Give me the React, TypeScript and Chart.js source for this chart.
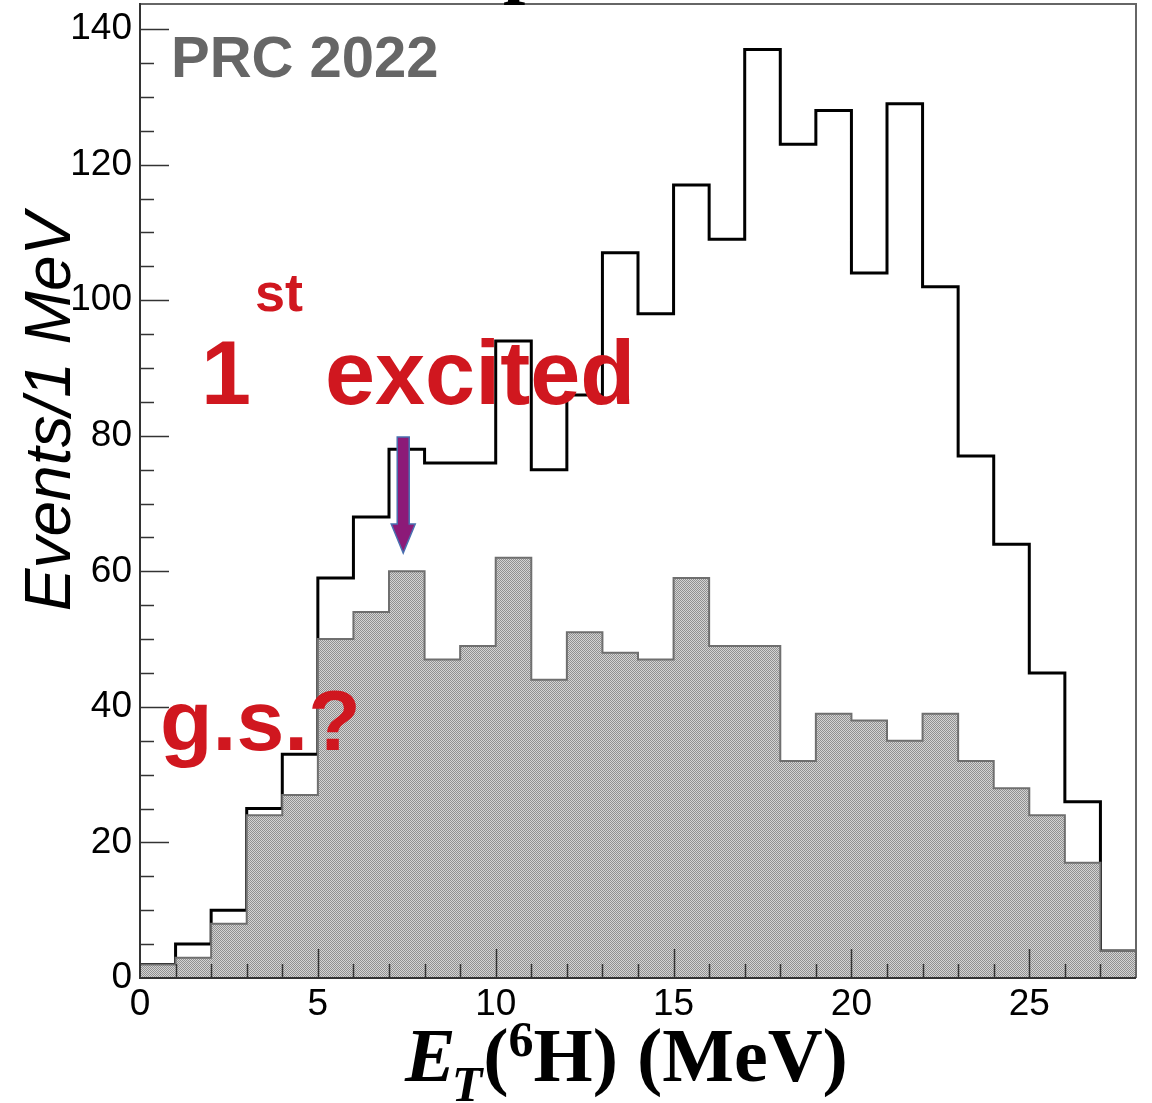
import { useEffect, useRef } from "react";
import { Chart, registerables } from "chart.js";

Chart.register(...registerables);

// ---- data (1 MeV bins, left edges) ----
const binLefts = [0, 1, 2, 3, 4, 5, 6, 7, 8, 9, 10, 11, 12, 13, 14, 15, 16, 17, 18, 19, 20, 21, 22, 23, 24, 25, 26, 27];
const binWidth = 1;
const openCounts = [2, 5, 10, 25, 33, 59, 68, 78, 76, 76, 94, 75, 86, 107, 98, 117, 109, 137, 123, 128, 104, 129, 102, 77, 64, 45, 26, 4];
const filledCounts = [2, 3, 8, 24, 27, 50, 54, 60, 47, 49, 62, 44, 51, 48, 47, 59, 49, 49, 32, 39, 38, 35, 39, 32, 28, 24, 17, 4];
const xTickValues = [0, 5, 10, 15, 20, 25];
const yTickValues = [0, 20, 40, 60, 80, 100, 120, 140];
const xMin = 0;
const xMax = 28;
const yMin = 0;
const yMax = 143.85;
// arrow annotation (data units)
const arrowX = 7.4;
const arrowTopY = 79.8;
const arrowTipY = 62.7;

const RED = "#d0171f";
const SANS = "'Liberation Sans', Arial, Helvetica, sans-serif";
const SERIF = "'Liberation Serif', 'Times New Roman', serif";

function toSteps(values: number[]) {
  const pts = values.map((v, i) => ({ x: binLefts[i], y: v }));
  const last = values.length - 1;
  pts.push({ x: binLefts[last] + binWidth, y: values[last] });
  return pts;
}

function makePattern(): CanvasPattern | string {
  const c = document.createElement("canvas");
  c.width = 2;
  c.height = 2;
  const g = c.getContext("2d");
  if (!g) return "#b0b0b0";
  g.fillStyle = "#d4d4d4";
  g.fillRect(0, 0, 2, 2);
  g.fillStyle = "#909090";
  g.fillRect(0, 0, 1, 1);
  g.fillRect(1, 1, 1, 1);
  const p = g.createPattern(c, "repeat");
  return p || "#b0b0b0";
}

const decorPlugin = {
  id: "rootDecor",
  afterDraw(chart: any) {
    const { ctx, chartArea: a, scales } = chart;
    const xs = scales.x;
    const ys = scales.y;
    ctx.save();

    // inner ticks
    ctx.strokeStyle = "#333";
    ctx.lineWidth = 1.5;
    for (let v = xMin + 1; v < xMax; v += 1) {
      const px = Math.round(xs.getPixelForValue(v)) + 0.5;
      const len = v % 5 === 0 ? 29 : 14;
      ctx.beginPath();
      ctx.moveTo(px, a.bottom);
      ctx.lineTo(px, a.bottom - len);
      ctx.stroke();
    }
    for (let v = yMin + 5; v < yMax; v += 5) {
      const py = Math.round(ys.getPixelForValue(v)) + 0.5;
      const len = v % 20 === 0 ? 29 : 14;
      ctx.beginPath();
      ctx.moveTo(a.left, py);
      ctx.lineTo(a.left + len, py);
      ctx.stroke();
    }

    // frame
    ctx.lineWidth = 2;
    ctx.strokeStyle = "#666";
    ctx.beginPath();
    ctx.moveTo(a.left, a.top + 1);
    ctx.lineTo(a.right, a.top + 1);
    ctx.lineTo(a.right, a.bottom);
    ctx.stroke();
    ctx.strokeStyle = "#333";
    ctx.beginPath();
    ctx.moveTo(a.left, a.top);
    ctx.lineTo(a.left, a.bottom);
    ctx.lineTo(a.right, a.bottom);
    ctx.stroke();

    // cut-off title fragment at top
    ctx.fillStyle = "#000";
    ctx.font = `bold 80px ${SERIF}`;
    ctx.textAlign = "left";
    ctx.textBaseline = "alphabetic";
    ctx.fillText("p", 503, -12);

    // PRC 2022
    ctx.fillStyle = "#666";
    ctx.font = `bold 58px ${SANS}`;
    ctx.fillText("PRC 2022", 171, 77);

    // red labels
    ctx.fillStyle = RED;
    ctx.font = `bold 90px ${SANS}`;
    ctx.fillText("1", 201, 404);
    ctx.fillText("excited", 325, 404);
    ctx.font = `bold 86px ${SANS}`;
    ctx.fillText("g.s.?", 160, 750);
    ctx.font = `bold 54px ${SANS}`;
    ctx.fillText("st", 255, 311);

    // arrow
    const ax = xs.getPixelForValue(arrowX);
    const aTop = ys.getPixelForValue(arrowTopY);
    const aTip = ys.getPixelForValue(arrowTipY);
    const headH = 29;
    const shaftW = 6;
    const headW = 12;
    ctx.beginPath();
    ctx.moveTo(ax - shaftW, aTop);
    ctx.lineTo(ax + shaftW, aTop);
    ctx.lineTo(ax + shaftW, aTip - headH);
    ctx.lineTo(ax + headW, aTip - headH);
    ctx.lineTo(ax, aTip);
    ctx.lineTo(ax - headW, aTip - headH);
    ctx.lineTo(ax - shaftW, aTip - headH);
    ctx.closePath();
    ctx.fillStyle = "#8c1a78";
    ctx.fill();
    ctx.strokeStyle = "#4a70b0";
    ctx.lineWidth = 1.5;
    ctx.stroke();

    // y axis title
    ctx.save();
    ctx.translate(70, 412);
    ctx.rotate(-Math.PI / 2);
    ctx.fillStyle = "#000";
    ctx.font = `italic 64px ${SANS}`;
    ctx.textAlign = "center";
    ctx.fillText("Events/1 MeV", 0, 0);
    ctx.restore();

    // x axis title: E_T(^6H) (MeV)
    ctx.fillStyle = "#000";
    ctx.textAlign = "left";
    const base = 1081;
    let cx = 405;
    ctx.font = `italic bold 76px ${SERIF}`;
    ctx.fillText("E", cx, base);
    cx += ctx.measureText("E").width - 4;
    ctx.font = `italic bold 50px ${SERIF}`;
    ctx.fillText("T", cx, base + 20);
    cx += ctx.measureText("T").width + 1;
    ctx.font = `bold 76px ${SERIF}`;
    ctx.fillText("(", cx, base);
    cx += ctx.measureText("(").width;
    ctx.font = `bold 50px ${SERIF}`;
    ctx.fillText("6", cx, base - 25);
    cx += ctx.measureText("6").width;
    ctx.font = `bold 76px ${SERIF}`;
    ctx.fillText("H) (MeV)", cx, base);

    ctx.restore();
  },
};

export default function App() {
  const ref = useRef<HTMLCanvasElement | null>(null);

  useEffect(() => {
    if (!ref.current) return;
    const pattern = makePattern();
    const chart = new Chart(ref.current, {
      type: "line",
      data: {
        datasets: [
          {
            label: "filled",
            data: toSteps(filledCounts),
            stepped: "before",
            fill: "origin",
            backgroundColor: pattern as any,
            borderColor: "#6f6f6f",
            borderWidth: 2,
            pointRadius: 0,
            order: 0,
          },
          {
            label: "open",
            data: toSteps(openCounts),
            stepped: "before",
            fill: false,
            borderColor: "#000",
            borderWidth: 3,
            pointRadius: 0,
            order: 1,
          },
        ],
      },
      options: {
        animation: false,
        responsive: false,
        maintainAspectRatio: false,
        layout: { padding: { top: 3, right: 16, left: 0, bottom: 0 } },
        plugins: { legend: { display: false }, tooltip: { enabled: false } },
        scales: {
          x: {
            type: "linear",
            min: xMin,
            max: xMax,
            grid: { display: false, drawTicks: false },
            border: { display: false },
            afterBuildTicks: (s: any) => {
              s.ticks = xTickValues.map((v) => ({ value: v }));
            },
            afterFit: (s: any) => {
              s.height = 125;
              s.paddingLeft = 0;
              s.paddingRight = 0;
              s.paddingTop = 0;
              s.paddingBottom = 0;
            },
            ticks: {
              color: "#000",
              font: { family: SANS, size: 37 },
              padding: 5,
              maxRotation: 0,
              autoSkip: false,
            },
          },
          y: {
            type: "linear",
            min: yMin,
            max: yMax,
            grid: { display: false, drawTicks: false },
            border: { display: false },
            afterBuildTicks: (s: any) => {
              s.ticks = yTickValues.map((v) => ({ value: v }));
            },
            afterFit: (s: any) => {
              s.width = 140;
              s.paddingTop = 0;
              s.paddingBottom = 0;
              s.paddingLeft = 0;
              s.paddingRight = 0;
            },
            ticks: {
              color: "#000",
              font: { family: SANS, size: 37 },
              padding: 8,
              autoSkip: false,
            },
          },
        },
      },
      plugins: [decorPlugin],
    });
    return () => chart.destroy();
  }, []);

  return (
    <div style={{ position: "absolute", left: 0, top: 0, width: 1152, height: 1103, background: "#fff" }}>
      <canvas ref={ref} width={1152} height={1103} style={{ width: 1152, height: 1103, display: "block" }} />
    </div>
  );
}
